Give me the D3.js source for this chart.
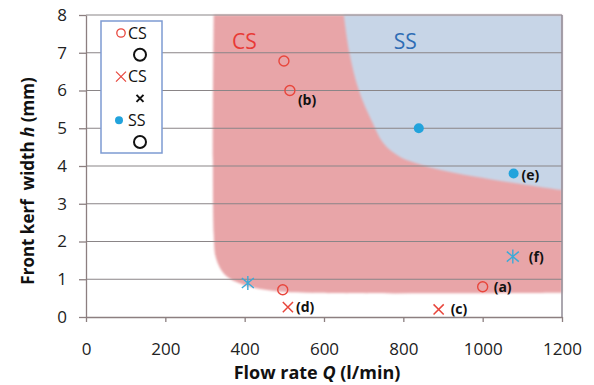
<!DOCTYPE html>
<html>
<head>
<meta charset="utf-8">
<script src="https://cdn.jsdelivr.net/npm/d3@7"></script>
<style>
  body { margin: 0; background: #fff; }
  svg { font-family: "Open Sans", sans-serif; }
  .pre { white-space: pre; }
</style>
</head>
<body>
<div id="viz"></div>
<script>
// data
var xTicks = [0, 200, 400, 600, 800, 1000, 1200];
var yTicks = [0, 1, 2, 3, 4, 5, 6, 7, 8];

var csCircleQ = [499, 514, 496, 1000];
var csCircleH = [6.78, 6.0, 0.72, 0.8];
var csCircleTag = ['', '(b)', '', '(a)'];

var csCrossQ = [509, 889];
var csCrossH = [0.26, 0.2];
var csCrossTag = ['(d)', '(c)'];

var ssDotQ = [839, 1078];
var ssDotH = [5.0, 3.8];
var ssDotTag = ['', '(e)'];

var ssStarQ = [408, 1076];
var ssStarH = [0.9, 1.6];
var ssStarTag = ['', '(f)'];

// region boundaries (Q, h)
var csEdge = [[322, 8], [322, 2.2], [328, 1.55], [350, 1.12], [395, 0.86], [465, 0.7], [560, 0.64], [1200, 0.64]];
var ssEdge = [[650, 8], [664, 7], [688, 6], [720, 5.2], [750, 4.6], [790, 4.25], [866, 3.97], [990, 3.7], [1200, 3.36]];
var regionNames = ['CS', 'SS'];
var regionNameAt = [[368, 7.3], [776, 7.3]];

var legendLabels = ['CS', '', 'CS', '', 'SS', ''];

var chart = {width: 594, height: 385};
var red = '#e8463c', blue = '#22a3dc';

var svg = d3.select('#viz').append('svg')
  .attr('width', chart.width)
  .attr('height', chart.height);

var x = d3.scaleLinear().domain([0, 1200]).range([86, 562]);
var y = d3.scaleLinear().domain([0, 8]).range([317, 15]);

var defs = svg.append('defs');
var pat = defs.append('pattern').attr('id', 'hatch')
  .attr('width', 3).attr('height', 3)
  .attr('patternUnits', 'userSpaceOnUse');
pat.append('rect').attr('width', 3).attr('height', 3).attr('fill', '#ccd9ea');
pat.append('path').attr('d', 'M0,3 L3,0').attr('stroke', '#b6c5da').attr('stroke-width', 0.6);
defs.append('filter').attr('id', 'soft')
  .append('feGaussianBlur').attr('stdDeviation', 1.3);

var edgeLine = d3.line()
  .x((d) => x(d[0]))
  .y((d) => y(d[1]))
  .curve(d3.curveCatmullRom);

svg.append('path')
  .attr('d', edgeLine(csEdge) + 'L' + x(1200) + ',' + y(8) + 'Z')
  .attr('fill', '#e8a5a8')
  .attr('filter', 'url(#soft)');
svg.append('path')
  .attr('d', edgeLine(ssEdge) + 'L' + x(1200) + ',' + y(8) + 'Z')
  .attr('fill', 'url(#hatch)')
  .attr('filter', 'url(#soft)');

svg.selectAll('.regname')
  .data(regionNames)
  .enter()
  .append('text')
  .attr('x', (d, i) => x(regionNameAt[i][0]))
  .attr('y', (d, i) => y(regionNameAt[i][1]))
  .attr('dy', '0.35em')
  .attr('font-size', 21)
  .attr('fill', (d, i) => i == 0 ? '#e83a36' : '#2f6db5')
  .text((d) => d);

// gridlines
svg.append('g')
  .selectAll('line')
  .data(yTicks.slice(1))
  .enter()
  .append('line')
  .attr('x1', x(0)).attr('x2', x(1200))
  .attr('y1', (d) => y(d)).attr('y2', (d) => y(d))
  .attr('stroke', '#8a8587')
  .attr('stroke-width', 1.2);
// right border
svg.append('line')
  .attr('x1', x(1200)).attr('x2', x(1200))
  .attr('y1', y(0)).attr('y2', y(8))
  .attr('stroke', '#8f8a95').attr('stroke-width', 1.5);

var xAxis = svg.append('g')
  .attr('transform', 'translate(0,' + y(0) + ')')
  .call(d3.axisBottom(x).tickValues(xTicks).tickFormat(d3.format('d'))
    .tickSize(5).tickPadding(21).tickSizeOuter(0));
var yAxis = svg.append('g')
  .attr('transform', 'translate(' + x(0) + ',0)')
  .call(d3.axisLeft(y).tickValues(yTicks).tickSize(7).tickPadding(12).tickSizeOuter(0));
[xAxis, yAxis].forEach(function(a) {
  a.select('.domain').attr('stroke', '#8c7f80').attr('stroke-width', 1.3);
  a.selectAll('.tick line').attr('stroke', '#8c7f80').attr('stroke-width', 1.3);
  a.selectAll('.tick text').attr('font-size', 17).attr('fill', '#222')
    .attr('font-family', '"Open Sans", sans-serif');
});

// axis titles
svg.append('text')
  .attr('x', 317).attr('y', 379)
  .attr('text-anchor', 'middle')
  .attr('font-size', 18).attr('font-weight', 'bold').attr('fill', '#111')
  .html('Flow rate <tspan font-style="italic">Q</tspan> (l/min)');
svg.append('text')
  .attr('class', 'pre')
  .attr('transform', 'translate(34,181) rotate(-90)')
  .attr('text-anchor', 'middle')
  .attr('font-size', 17).attr('font-weight', 'bold').attr('fill', '#111')
  .html('Front kerf  width <tspan font-style="italic">h</tspan> (mm)');

// markers
function tags(qs, hs, tg, dx, dy) {
  svg.append('g')
    .selectAll('text')
    .data(tg)
    .enter()
    .append('text')
    .attr('x', (d, i) => x(qs[i]) + dx[i])
    .attr('y', (d, i) => y(hs[i]) + dy[i])
    .attr('dy', '0.35em')
    .attr('font-size', 14).attr('font-weight', 'bold').attr('fill', '#111')
    .text((d) => d);
}

svg.append('g')
  .selectAll('circle')
  .data(csCircleQ)
  .enter()
  .append('circle')
  .attr('cx', (d) => x(d))
  .attr('cy', (d, i) => y(csCircleH[i]))
  .attr('r', 5)
  .attr('fill', 'none').attr('stroke', red).attr('stroke-width', 1.4);
tags(csCircleQ, csCircleH, csCircleTag, [0, 8, 0, 11], [0, 10, 0, 0]);

svg.append('g')
  .selectAll('path')
  .data(csCrossQ)
  .enter()
  .append('path')
  .attr('transform', (d, i) => 'translate(' + x(d) + ',' + y(csCrossH[i]) + ') scale(1.25)')
  .attr('d', d3.symbol().type(d3.symbolX).size(45))
  .attr('fill', 'none').attr('stroke', red).attr('stroke-width', 1.2);
tags(csCrossQ, csCrossH, csCrossTag, [8, 12], [0, 0]);

svg.append('g')
  .selectAll('circle')
  .data(ssDotQ)
  .enter()
  .append('circle')
  .attr('cx', (d) => x(d))
  .attr('cy', (d, i) => y(ssDotH[i]))
  .attr('r', 5)
  .attr('fill', blue);
tags(ssDotQ, ssDotH, ssDotTag, [0, 8], [0, 2]);

svg.append('g')
  .selectAll('path')
  .data(ssStarQ)
  .enter()
  .append('path')
  .attr('transform', (d, i) => 'translate(' + x(d) + ',' + y(ssStarH[i]) + ')')
  .attr('d', 'M-6,-5L6,5M-6,5L6,-5M0,-7L0,7')
  .attr('fill', 'none').attr('stroke', '#3aaad8').attr('stroke-width', 1.4);
tags(ssStarQ, ssStarH, ssStarTag, [0, 16], [0, 0]);

// legend
var legend = svg.append('g').attr('id', 'legend');
legend.append('rect')
  .attr('x', 101).attr('y', 21).attr('width', 61).attr('height', 132)
  .attr('fill', '#fff').attr('stroke', '#7d9bd2').attr('stroke-width', 1.5);
var rowY = (i) => 33 + i * 21.8;
legend.selectAll('.lt')
  .data(legendLabels)
  .enter()
  .append('text')
  .attr('x', 128)
  .attr('y', (d, i) => rowY(i))
  .attr('dy', '0.35em')
  .attr('font-size', 16).attr('fill', '#111')
  .text((d) => d);
legend.append('circle').attr('cx', 121).attr('cy', rowY(0)).attr('r', 4.2)
  .attr('fill', 'none').attr('stroke', red).attr('stroke-width', 1.3);
legend.append('path').attr('transform', 'translate(121,' + rowY(2) + ')')
  .attr('d', 'M-5,-5L5,5M-5,5L5,-5').attr('stroke', red).attr('stroke-width', 1.2);
legend.append('circle').attr('cx', 119).attr('cy', rowY(4)).attr('r', 4)
  .attr('fill', blue);
[1, 5].forEach(function(i) {
  legend.append('circle').attr('cx', 140).attr('cy', rowY(i)).attr('r', 6)
    .attr('fill', 'none').attr('stroke', '#111').attr('stroke-width', 2);
});
legend.append('path').attr('transform', 'translate(140,' + rowY(3) + ')')
  .attr('d', 'M-3.5,-3.5L3.5,3.5M-3.5,3.5L3.5,-3.5').attr('stroke', '#111').attr('stroke-width', 2);
</script>
</body>
</html>
